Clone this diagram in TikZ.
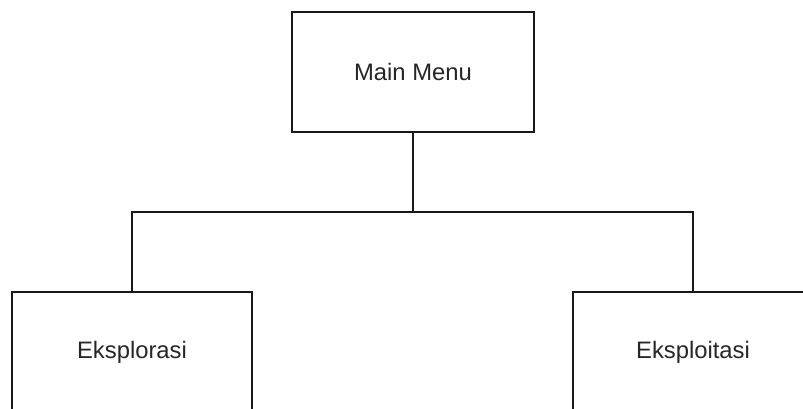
\documentclass[tikz,border=0pt]{standalone}
\usepackage{fontspec}
\setmainfont{Liberation Sans}
\begin{document}
\begin{tikzpicture}[x=1pt,y=-1pt,
  box/.style={draw=black!90, line width=1.4pt, fill=white, minimum width=240pt, minimum height=120pt, inner sep=0pt, font=\fontsize{23.8}{28}\selectfont, text=black!85},
  conn/.style={draw=black!90, line width=1.4pt}]
\useasboundingbox (0,0) rectangle (803,409);
\clip (0,0) rectangle (803,409);
\fill[white] (0,0) rectangle (803,409);
\node[box, minimum width=242pt] (main) at (413,72) {Main Menu};
\node[box] (left) at (132,352) {Eksplorasi};
\node[box] (right) at (693,352) {Eksploitasi};
\coordinate (j) at (413,212);
\draw[conn] (main.south) -- (j);
\draw[conn] (left.north) |- (j) -| (right.north);
\end{tikzpicture}
\end{document}
